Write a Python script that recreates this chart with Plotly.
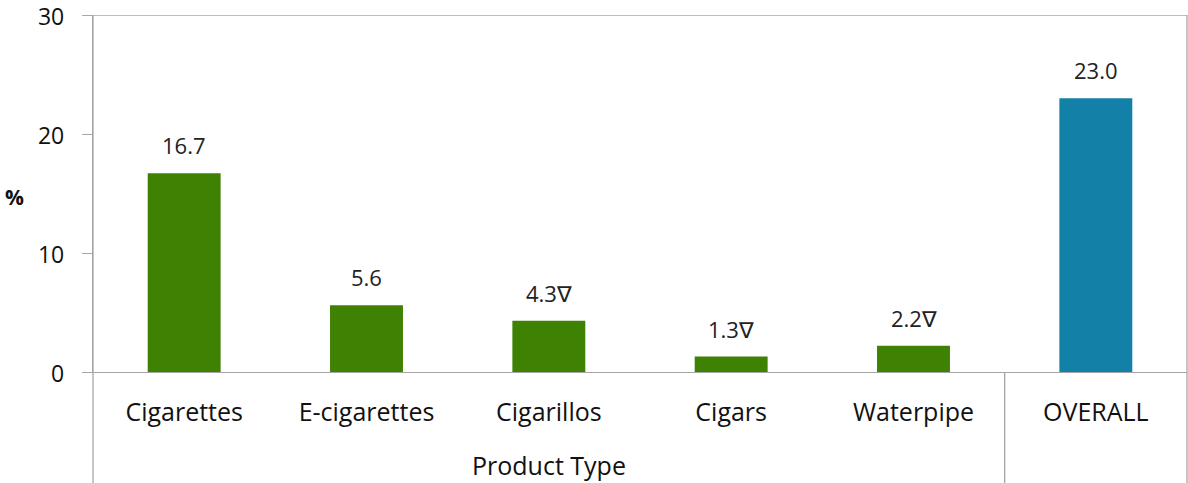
import plotly.graph_objects as go

categories = ["Cigarettes", "E-cigarettes", "Cigarillos", "Cigars", "Waterpipe", "OVERALL"]
values = [16.7, 5.6, 4.3, 1.3, 2.2, 23.0]
labels = ["16.7", "5.6", "4.3∇", "1.3∇", "2.2∇", "23.0"]
colors = ["#3F8203"] * 5 + ["#1380A8"]
y_ticks = [0, 10, 20, 30]

FONT = "Open Sans"
GRAY = "#A6A6A6"

fig = go.Figure(go.Bar(x=categories, y=values, marker_color=colors, width=0.4,
                       marker_line_width=0, hoverinfo="skip"))

for c, v, t in zip(categories, values, labels):
    fig.add_annotation(x=c, y=v, text=t, showarrow=False, yanchor="bottom",
                       yshift=11, font=dict(size=22, color="#222222", family=FONT))

bottom = -111 / 357
shapes = [
    dict(type="line", xref="paper", yref="paper", x0=0, x1=0, y0=bottom, y1=1,
         line=dict(color=GRAY, width=1.3)),
    dict(type="line", xref="paper", yref="paper", x0=1, x1=1, y0=bottom, y1=1,
         line=dict(color=GRAY, width=1.3)),
    dict(type="line", xref="x", yref="paper", x0=4.5, x1=4.5, y0=bottom, y1=0,
         line=dict(color=GRAY, width=1.3)),
    dict(type="line", xref="paper", yref="y", x0=0, x1=1, y0=30, y1=30,
         line=dict(color=GRAY, width=1.3)),
]
fig.update_layout(shapes=shapes)

fig.add_annotation(xref="x", yref="paper", x=2, y=bottom, text="Product Type",
                   showarrow=False, yanchor="bottom", yshift=-1,
                   font=dict(size=25, color="#111111", family=FONT))
fig.add_annotation(xref="paper", yref="paper", x=-79 / 1094, y=(372 - 197) / 357,
                   text="<b>%</b>", showarrow=False, xanchor="center", yanchor="middle",
                   font=dict(size=21, color="#111111", family=FONT))

fig.update_layout(
    width=1188, height=483,
    margin=dict(l=93, r=1, t=15, b=111, autoexpand=False),
    plot_bgcolor="white", paper_bgcolor="white",
    showlegend=False,
    bargap=0.6,
    xaxis=dict(showline=True, linecolor=GRAY, linewidth=1.3, ticks="",
               tickfont=dict(size=25, color="#111111", family=FONT),
               ticklabelstandoff=18, showgrid=False, range=[-0.5, 5.5], automargin=False),
    yaxis=dict(range=[0, 30], tickvals=y_ticks, ticks="outside", ticklen=10,
               tickcolor=GRAY, tickwidth=1.3, showline=True, linecolor=GRAY, linewidth=1.3,
               showgrid=False, zeroline=False, automargin=False,
               ticklabeloverflow="allow", ticklabelshift=2,
               tickfont=dict(size=23, color="#111111", family=FONT),
               ticklabelstandoff=13),
)

fig.write_html("out.html", config={"displayModeBar": False},
               post_script="document.body.style.margin='0';")
